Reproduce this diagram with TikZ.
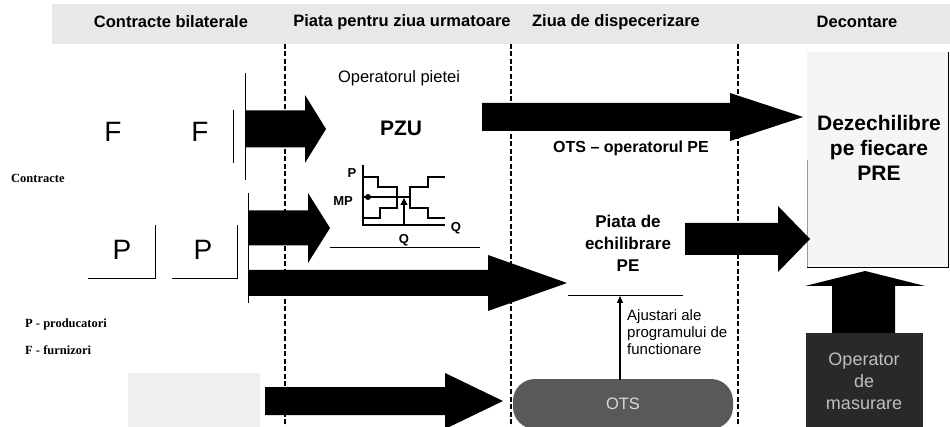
\documentclass[tikz,border=0pt]{standalone}
\usepackage{fontspec}
\setmainfont{Liberation Sans}
\newfontfamily\serifbold{Liberation Serif}
\usetikzlibrary{arrows.meta}
\tikzset{
  blk/.style={fill=black},
  hdr/.style={font=\bfseries\fontsize{16.5}{18}\selectfont, inner sep=0pt},
  lbl/.style={font=\bfseries\fontsize{16}{22}\selectfont, inner sep=0pt, align=center},
  big/.style={font=\bfseries\fontsize{21}{25}\selectfont, inner sep=0pt, align=center},
  letter/.style={font=\fontsize{28}{30}\selectfont, inner sep=0pt},
  legend/.style={font=\serifbold\bfseries\fontsize{12.5}{14}\selectfont, inner sep=0pt, anchor=west},
  phase/.style={line width=1.8pt, dash pattern=on 5pt off 2.5pt},
  chart/.style={line width=1.1pt},
  axlbl/.style={font=\bfseries\fontsize{13}{14}\selectfont, inner sep=0pt},
  speck/.style={fill=black!9},
}
\newcommand\harrow[6]{% x0, xhead, xtip, ycenter, shaft half, head half
  \fill[blk] (#1,#4-#5) -- (#2,#4-#5) -- (#2,#4-#6) -- (#3,#4) -- (#2,#4+#6) -- (#2,#4+#5) -- (#1,#4+#5) -- cycle;}
\begin{document}
\begin{tikzpicture}[x=1pt,y=-1pt]
\useasboundingbox (0,0) rectangle (950,427);
% header band
\fill[speck] (52,4) rectangle (950,44);
\node[hdr] (h1) at (171,22) {Contracte bilaterale};
\node[hdr] (h2) at (402,22) {Piata pentru ziua urmatoare};
\node[hdr] (h3) at (616,22) {Ziua de dispecerizare};
\node[hdr] (h4) at (857,22) {Decontare};
% bottom-left light area
\fill[fill=black!6] (128,373) rectangle (260,427);
% phase separators
\draw[phase] (285,44) -- (285,427);
\draw[phase] (511,44) -- (511,427);
\draw[phase] (738,44) -- (738,427);
% settlement box
\fill[black!4] (807,52) rectangle (948,267);
\draw[line width=0.8pt] (948,52) -- (948,267) -- (807,267);
\draw[line width=0.5pt, black!40] (807,160) -- (807,267);
\node[big] (dez) at (879,148) {Dezechilibre\\pe fiecare\\PRE};
% left column
\node[letter] (f1) at (113,132) {F};
\node[letter] (f2) at (200,132) {F};
\node[letter] (p1) at (122,250) {P};
\node[letter] (p2) at (203,250) {P};
\draw[line width=0.9pt] (233,110) -- (233,163);
\draw[line width=0.9pt] (155,225) -- (155,278) -- (88,278);
\draw[line width=0.9pt] (237,225) -- (237,278) -- (172,278);
\draw[line width=0.9pt] (245,73) -- (245,180);
\draw[line width=0.9pt] (248,193) -- (248,303);
\node[legend] (ctr) at (11,178) {Contracte};
\node[legend] (lp) at (25,324) {P - producatori};
\node[legend] (lf) at (25,350) {F - furnizori};
% block arrows
\harrow{245}{305}{326}{129}{18.5}{34}
\harrow{248}{308}{330}{228}{17.5}{35}
\harrow{248}{488}{567}{283}{13}{28}
\harrow{482}{730}{803}{117}{14}{24}
\harrow{685}{778}{810}{239}{16}{33}
\harrow{265}{445}{503}{401}{14}{28}
\fill[blk] (832,335) -- (832,286) -- (805,286) -- (865,271) -- (925,286) -- (895,286) -- (895,335) -- cycle;
% day-ahead market
\node[lbl, font=\fontsize{16.5}{20}\selectfont] (op) at (399,78) {Operatorul pietei};
\node[big] (pzu) at (401,128) {PZU};
\draw[chart] (363,165) -- (363,225) -- (445,225);
\draw[chart] (363,177) -- (378,177) -- (378,187) -- (397,187) -- (397,197) -- (410,197) -- (410,208) -- (428,208) -- (428,218) -- (445,218);
\draw[chart] (363,218) -- (380,218) -- (380,208) -- (397,208) -- (397,197) -- (410,197) -- (410,187) -- (428,187) -- (428,177) -- (445,177);
\draw[chart] (363,197) -- (410,197);
\fill (368,197) circle (3pt);
\draw[chart, -{Triangle[length=7pt,width=7pt]}] (404,225) -- (404,198);
\node[axlbl] (pl) at (352,173) {P};
\node[axlbl] (mp) at (343,201) {MP};
\node[axlbl] (q1) at (456,228) {Q};
\node[axlbl] (q2) at (404,240) {Q};
\draw[line width=0.8pt] (330,247) -- (480,247);
% balancing market
\node[lbl] (ots) at (631,148) {OTS -- operatorul PE};
\node[lbl, font=\bfseries\fontsize{17}{22}\selectfont] (pe) at (628,243) {Piata de\\echilibrare\\PE};
\draw[line width=0.8pt] (568,295) -- (683,295);
\node[draw=none, fill=black!65, rounded corners=22pt, minimum width=220pt, minimum height=50pt, text=black!15, font=\fontsize{16.5}{18}\selectfont] (otsb) at (623,404) {OTS};
\coordinate (aj) at (620,296);
\draw[line width=1.3pt, -{Triangle[length=7pt,width=6pt]}] (620,380) -- (aj);
\node[font=\fontsize{15}{17}\selectfont, inner sep=0pt, align=left, anchor=north west] (ajt) at (627,309) {Ajustari ale\\programului de\\functionare};
% metering operator
\node[fill=black!84, minimum width=117pt, minimum height=95pt, text=black!25, align=center, font=\fontsize{18}{22}\selectfont, inner sep=0pt] (om) at (864,381) {Operator\\de\\masurare};
\end{tikzpicture}
\end{document}
